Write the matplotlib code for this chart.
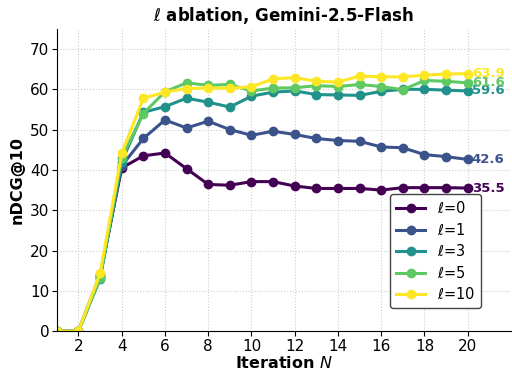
import matplotlib
matplotlib.use("Agg")
import matplotlib.pyplot as plt
import numpy as np

iters = list(range(1, 21))
ells = [0, 1, 3, 5, 10]
ndcg_l0 = [0, 0, 14.0, 40.5, 43.5, 44.2, 40.3, 36.4, 36.2, 37.1, 37.1, 36.0, 35.4, 35.4, 35.4, 35.0, 35.6, 35.6, 35.6, 35.5]
ndcg_l1 = [0, 0, 13.5, 41.0, 47.8, 52.4, 50.4, 52.1, 50.0, 48.6, 49.6, 48.8, 47.8, 47.3, 47.1, 45.7, 45.5, 43.8, 43.3, 42.6]
ndcg_l3 = [0, 0, 13.0, 42.0, 54.3, 55.7, 57.8, 56.8, 55.6, 58.3, 59.3, 59.6, 58.7, 58.6, 58.5, 59.5, 60.0, 60.0, 59.8, 59.6]
ndcg_l5 = [0, 0, 13.2, 43.0, 54.0, 59.4, 61.6, 61.0, 61.2, 59.6, 60.3, 60.4, 60.9, 60.7, 61.2, 60.7, 59.9, 62.2, 62.0, 61.6]
ndcg_l10 = [0, 0, 14.3, 44.1, 57.8, 59.3, 60.2, 60.3, 60.3, 60.6, 62.6, 62.9, 62.0, 61.8, 63.3, 63.1, 63.1, 63.5, 63.8, 63.9]
series = [ndcg_l0, ndcg_l1, ndcg_l3, ndcg_l5, ndcg_l10]

colors = plt.cm.viridis(np.linspace(0, 1, len(ells)))

fig, ax = plt.subplots(figsize=(5.12, 3.75), dpi=100)
fig.subplots_adjust(left=0.111, right=0.998, bottom=0.117, top=0.923)
for ell, vals, c in zip(ells, series, colors):
    ax.plot(iters, vals, marker='o', markersize=6, linewidth=2.2, color=c, label=r'$\ell$=' + str(ell))
    ax.annotate(f'{vals[-1]:.1f}', (iters[-1], vals[-1]), xytext=(3, 0), textcoords='offset points',
                va='center', ha='left', color=c, fontsize=9.5, fontweight='bold')

ax.set_xlim(1, 22)
ax.set_ylim(0, 75)
ax.set_xticks(range(2, 21, 2))
ax.set_yticks(range(0, 71, 10))
ax.tick_params(labelsize=11, pad=2)
ax.grid(True, linestyle=':', color='#cccccc', linewidth=0.8)
ax.spines['top'].set_visible(False)
ax.spines['right'].set_visible(False)
ax.set_xlabel(r'Iteration $N$', fontsize=11.5, fontweight='bold', labelpad=1)
ax.set_ylabel('nDCG@10', fontsize=11.5, fontweight='bold')
ax.set_title(r'$\ell$ ablation, Gemini-2.5-Flash', fontsize=12, fontweight='bold')
leg = ax.legend(loc='lower right', bbox_to_anchor=(0.934, 0.076), borderaxespad=0, fontsize=10.5,
                labelspacing=0.38, framealpha=1, edgecolor='#444444', fancybox=True)

fig.savefig('out.png', dpi=100)
